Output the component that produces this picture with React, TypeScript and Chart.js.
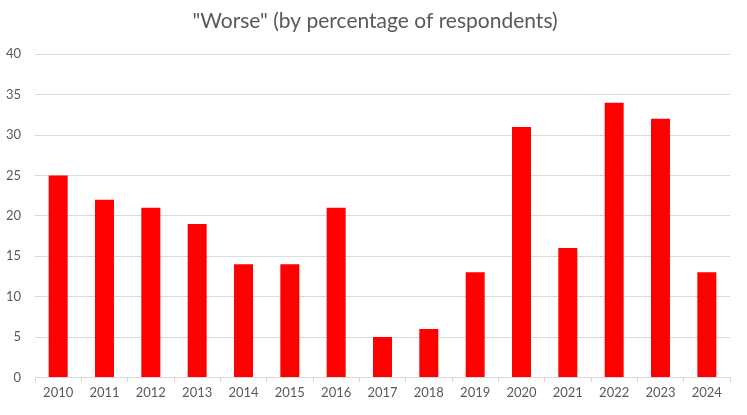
import React, { useEffect, useRef } from "react";
import { Chart, registerables } from "chart.js";

Chart.register(...registerables);

const categories = ["2010","2011","2012","2013","2014","2015","2016","2017","2018","2019","2020","2021","2022","2023","2024"];
const worseValues = [25, 22, 21, 19, 14, 14, 21, 5, 6, 13, 31, 16, 34, 32, 13];
const chartTitle = '"Worse" (by percentage of respondents)';

const centerTitle = {
  id: "centerTitle",
  afterLayout(chart: any) {
    const t = chart.titleBlock;
    if (t) {
      t.left = 3;
      t.right = chart.width;
      t.width = chart.width - 3;
    }
  },
};

export default function App() {
  const ref = useRef<HTMLCanvasElement>(null);
  useEffect(() => {
    document.body.style.margin = "0";
    const ctx = ref.current!;
    const chart = new Chart(ctx, {
      type: "bar",
      data: {
        labels: categories,
        datasets: [
          {
            data: worseValues,
            backgroundColor: "#ff0000",
            borderWidth: 0,
            barPercentage: 0.41,
            categoryPercentage: 1,
          },
        ],
      },
      plugins: [centerTitle],
      options: {
        animation: false,
        responsive: false,
        maintainAspectRatio: false,
        layout: { padding: { left: 4, right: 17, top: 5, bottom: 11 } },
        plugins: {
          legend: { display: false },
          tooltip: { enabled: false },
          title: {
            display: true,
            text: chartTitle,
            color: "#595959",
            font: { family: "Lato", size: 21, weight: "normal" },
            padding: { top: 4, bottom: 20 },
          },
        },
        scales: {
          x: {
            offset: true,
            grid: {
              offset: true,
              display: true,
              drawOnChartArea: false,
              drawTicks: true,
              tickLength: 5,
              color: "#d9d9d9",
            },
            border: { color: "#d9d9d9" },
            ticks: {
              color: "#595959",
              font: { family: "Lato", size: 13 },
              maxRotation: 0,
              padding: 3,
            },
          },
          y: {
            min: 0,
            max: 40,
            afterFit: (scale: any) => {
              scale.width = 31;
            },
            ticks: {
              stepSize: 5,
              color: "#595959",
              font: { family: "Lato", size: 13 },
              padding: 14,
            },
            grid: { color: "#d9d9d9", drawTicks: false },
            border: { display: false },
          },
        },
      },
    });
    return () => chart.destroy();
  }, []);
  return (
    <div style={{ width: 747, height: 415 }}>
      <canvas ref={ref} width={747} height={415} style={{ width: 747, height: 415, display: "block" }} />
    </div>
  );
}
